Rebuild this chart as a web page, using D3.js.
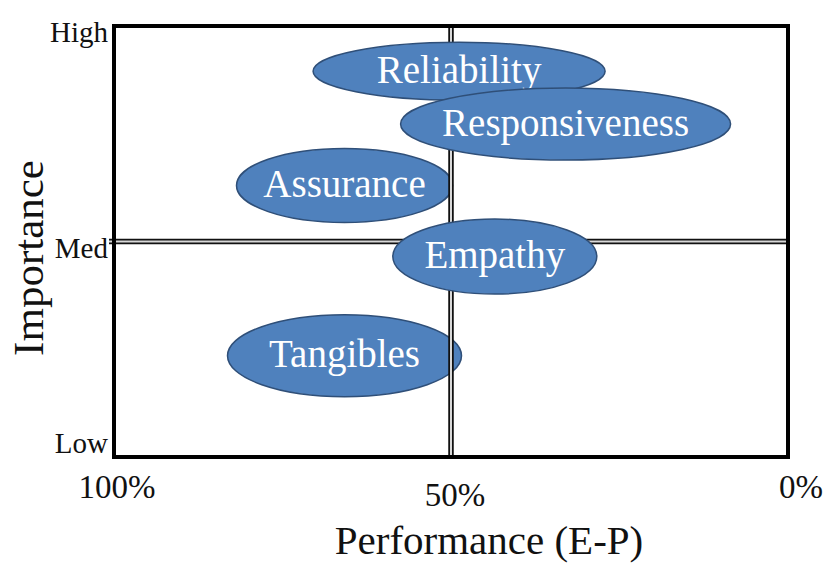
<!DOCTYPE html>
<html>
<head>
<meta charset="utf-8">
<script src="https://cdn.jsdelivr.net/npm/d3@7"></script>
<style>
  body { margin: 0; background: #fff; }
  svg { display: block; }
</style>
</head>
<body>
<div id="chart"></div>
<script>
// data
const dimensions = ["Assurance", "Tangibles", "Reliability", "Responsiveness", "Empathy"];
const performance = [65.8, 65.8, 48.8, 33.0, 43.5];   // % (E-P)
const importance = [1.26, 0.47, 1.79, 1.545, 0.93];   // 0 = Low, 1 = Med, 2 = High
const xTicks = [100, 50, 0];
const xTickLabels = ["100%", "50%", "0%"];
const yTicks = [0, 1, 2];
const yTickLabels = ["Low", "Med", "High"];

(function () {
  const width = 828, height = 568;
  const frame = { left: 114, right: 788, top: 26, bottom: 457 };
  const serif = "'Liberation Serif', 'Times New Roman', serif";

  // ellipse half-sizes (px) and which ones sit under the quadrant lines
  const bubbleSize = {
    Assurance: [108, 37], Tangibles: [117, 41], Reliability: [146, 29],
    Responsiveness: [165, 36], Empathy: [102, 37.5]
  };
  const underLines = ["Assurance", "Tangibles"];
  const xLabelShift = [[3, 41], [4, 49], [13, 41]];

  const svg = d3.select("#chart")
    .append("svg")
    .attr("width", width)
    .attr("height", height);

  const x = d3.scaleLinear().domain([100, 0]).range([frame.left, frame.right]);
  const y = d3.scaleLinear().domain([0, 2]).range([frame.bottom, frame.top]);

  const data = dimensions.map((name, i) => ({
    name, perf: performance[i], imp: importance[i]
  }));

  const lowerLayer = svg.append("g");
  const lineLayer = svg.append("g");
  const upperLayer = svg.append("g");

  function drawBubbles(g, rows) {
    const b = g.selectAll("g.bubble")
      .data(rows)
      .join("g")
        .attr("class", "bubble")
        .attr("transform", d => `translate(${x(d.perf)},${y(d.imp)})`);
    b.append("ellipse")
      .attr("rx", d => bubbleSize[d.name][0])
      .attr("ry", d => bubbleSize[d.name][1])
      .attr("fill", "#4f81bd")
      .attr("stroke", "#2f4f78")
      .attr("stroke-width", 1.5);
    b.append("text")
      .text(d => d.name)
      .attr("text-anchor", "middle")
      .attr("dy", "0.3em")
      .attr("font-family", serif)
      .attr("font-size", 39)
      .attr("fill", "#fff");
  }

  drawBubbles(lowerLayer, data.filter(d => underLines.includes(d.name)));

  // double quadrant lines at 50% / Med
  const quadLines = [
    [[x(50), frame.top], [x(50), frame.bottom]],
    [[frame.left - 5, y(1)], [frame.right, y(1)]]
  ];
  lineLayer.selectAll("path.outer")
    .data(quadLines)
    .join("path")
      .attr("class", "outer")
      .attr("d", d3.line())
      .attr("stroke", "#111")
      .attr("stroke-width", 5.5);
  lineLayer.selectAll("path.inner")
    .data(quadLines)
    .join("path")
      .attr("class", "inner")
      .attr("d", d3.line())
      .attr("stroke", "#d8d8d8")
      .attr("stroke-width", 2);

  drawBubbles(upperLayer, data.filter(d => !underLines.includes(d.name)));

  // frame
  svg.append("rect")
    .attr("x", frame.left)
    .attr("y", frame.top)
    .attr("width", frame.right - frame.left)
    .attr("height", frame.bottom - frame.top)
    .attr("fill", "none")
    .attr("stroke", "#000")
    .attr("stroke-width", 4);

  // y tick labels
  svg.selectAll("text.ytick")
    .data(yTicks)
    .join("text")
      .attr("class", "ytick")
      .attr("x", frame.left - 6)
      .attr("y", d => Math.min(Math.max(y(d) + 16, frame.top + 6), frame.bottom - 4))
      .attr("text-anchor", "end")
      .attr("font-family", serif)
      .attr("font-size", 29)
      .attr("fill", "#111")
      .text((d, i) => yTickLabels[i]);

  // x tick labels
  svg.selectAll("text.xtick")
    .data(xTicks)
    .join("text")
      .attr("class", "xtick")
      .attr("x", (d, i) => x(d) + xLabelShift[i][0])
      .attr("y", (d, i) => frame.bottom + xLabelShift[i][1])
      .attr("text-anchor", "middle")
      .attr("font-family", serif)
      .attr("font-size", 33)
      .attr("fill", "#111")
      .text((d, i) => xTickLabels[i]);

  // axis titles
  svg.append("text")
    .attr("x", 489)
    .attr("y", 554)
    .attr("text-anchor", "middle")
    .attr("font-family", serif)
    .attr("font-size", 41)
    .attr("fill", "#111")
    .text("Performance (E-P)");

  svg.append("text")
    .attr("transform", "translate(43,258) rotate(-90)")
    .attr("text-anchor", "middle")
    .attr("font-family", serif)
    .attr("font-size", 43)
    .attr("fill", "#111")
    .text("Importance");
})();
</script>
</body>
</html>
